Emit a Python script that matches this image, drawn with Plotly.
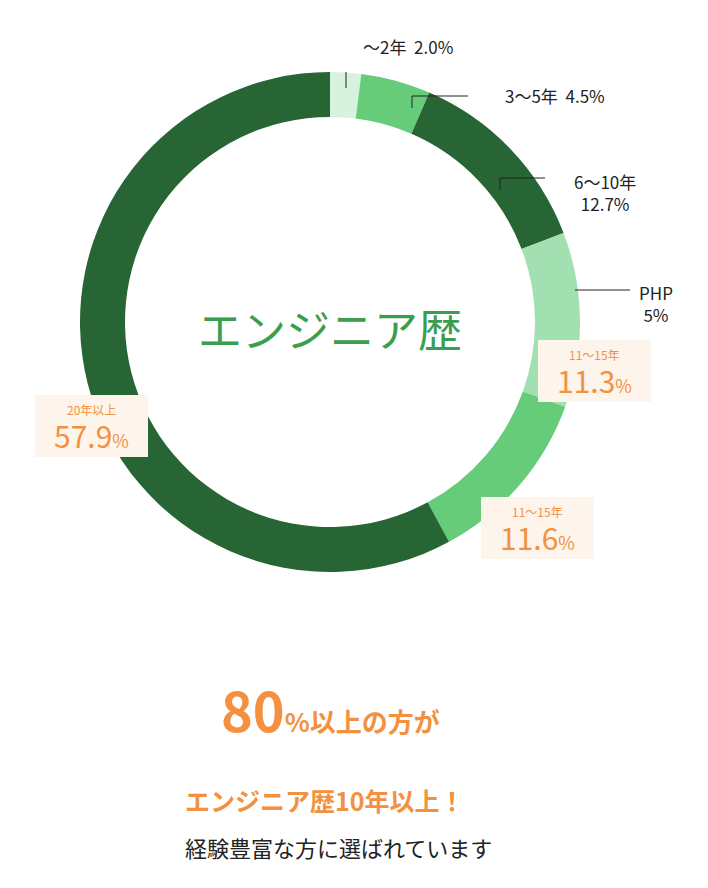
import plotly.graph_objects as go

labels = ["〜2年", "3〜5年", "6〜10年", "11〜15年", "11〜15年 ", "20年以上"]
values = [2.0, 4.5, 12.7, 11.3, 11.6, 57.9]
colors = ["#d7f3dd", "#66cc7a", "#276534", "#a2dfb1", "#66cc7a", "#276534"]

W, H = 708, 888
OFF = 8  # page body margin
cx, cy, r = 330 - OFF, 322 - OFF, 250

fig = go.Figure(go.Pie(
    labels=labels, values=values, hole=0.82, sort=False, direction="clockwise",
    rotation=0, marker=dict(colors=colors), textinfo="none", hoverinfo="label+percent",
    domain=dict(x=[(cx - r) / W, (cx + r) / W], y=[1 - (cy + r) / H, 1 - (cy - r) / H]),
))


def px(x, y):
    return (x - OFF) / W, 1 - (y - OFF) / H


anns = []
FONT = "Noto Sans CJK JP"


def txt(x, y, s, size, color="#222", anchor="center"):
    ax, ay = px(x, y)
    anns.append(dict(x=ax, y=ay, xref="paper", yref="paper", text=s, showarrow=False,
                     xanchor=anchor, yanchor="middle",
                     font=dict(size=size, color=color, family=FONT)))


txt(408, 46, "〜2年  2.0%", 17)
txt(555, 95, "3〜5年  4.5%", 17)
txt(605, 192, "6〜10年<br>12.7%", 17)
txt(637, 304, "PHP<br>5%", 17, anchor="left")
txt(330, 328, "エンジニア歴", 44, "#3a9e4f")

shapes = []
boxes = [(538, 340, "11〜15年", "11.3"), (481, 497, "11〜15年", "11.6"), (35, 395, "20年以上", "57.9")]
for x, y, a, b in boxes:
    x0, y1 = px(x, y)
    x1, y0 = px(x + 113, y + 62)
    shapes.append(dict(type="rect", xref="paper", yref="paper", x0=x0, y0=y0, x1=x1, y1=y1,
                       fillcolor="#fdf4ec", line=dict(width=0), layer="above"))
    txt(x + 56, y + 14, a, 12, "#f39140")
    txt(x + 56, y + 40, f"{b}<span style='font-size:18px'>%</span>", 30, "#f39140")

txt(330, 708, "<b><span style='font-size:54px'>80</span>%以上の方が</b>", 26, "#f39140")
txt(325, 800, "<b>エンジニア歴10年以上！</b>", 25, "#f39140")
txt(338, 847, "経験豊富な方に選ばれています", 22, "#222")

for pts in [[(346, 72), (346, 88)], [(412, 108), (412, 96), (468, 96)], [(500, 190), (500, 178), (545, 178)], [(575, 290), (630, 290)]]:
    for (xa, ya), (xb, yb) in zip(pts[:-1], pts[1:]):
        a0, b0 = px(xa, ya)
        a1, b1 = px(xb, yb)
        shapes.append(dict(type="line", xref="paper", yref="paper", x0=a0, y0=b0, x1=a1, y1=b1,
                           line=dict(color="#222", width=1)))

fig.update_layout(width=W, height=H, margin=dict(l=0, r=0, t=0, b=0), showlegend=False,
                  paper_bgcolor="white", annotations=anns, shapes=shapes,
                  font=dict(family=FONT))
fig.write_html("out.html")
